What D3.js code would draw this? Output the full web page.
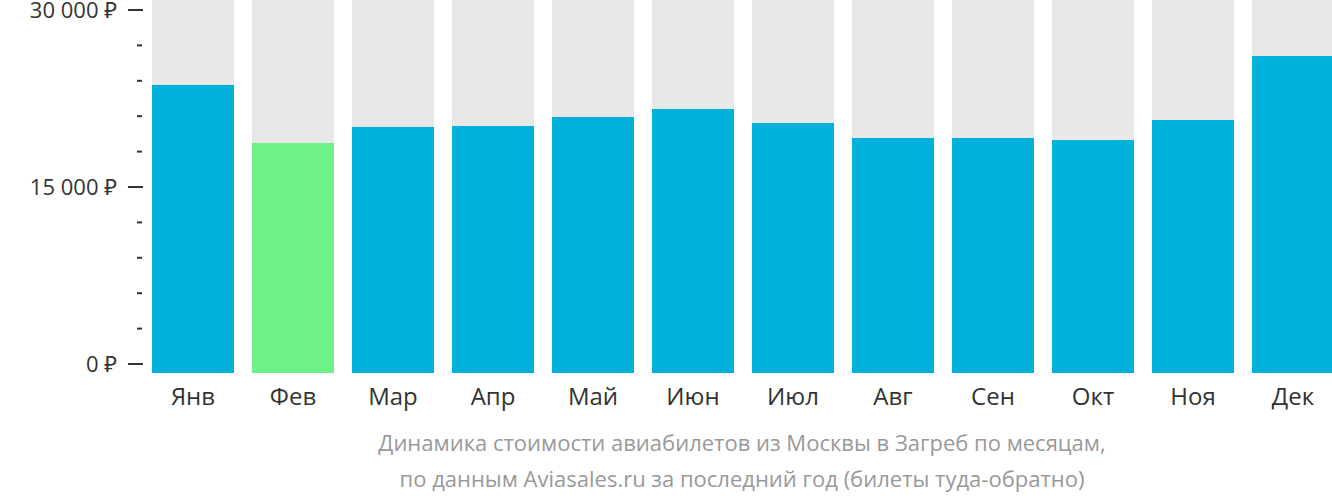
<!DOCTYPE html>
<html><head><meta charset="utf-8">
<script src="https://cdn.jsdelivr.net/npm/d3@7"></script>
<style>body{margin:0;background:#fff}text{font-family:"Open Sans","Noto Sans",sans-serif}</style>
</head><body><div id="chart"></div>
<script>
const width = 1332, height = 502;
const months = ["Янв","Фев","Мар","Апр","Май","Июн","Июл","Авг","Сен","Окт","Ноя","Дек"];
const prices = [23650, 18730, 20090, 20170, 20930, 21610, 20420, 19150, 19150, 18980, 20680, 26100];
const majorTicks = [0, 15000, 30000];
const minorTicks = [3000, 6000, 9000, 12000, 18000, 21000, 24000, 27000];
const cheapest = 1;

const svg = d3.select("#chart").append("svg")
  .attr("width", width).attr("height", height);

const x = d3.scaleBand().domain(months).range([143, 1343]).paddingInner(0.18).paddingOuter(0.09);
const y = d3.scaleLinear().domain([0, 30000]).range([364, 10]);
const bottom = y(0) + 9;

// background columns
svg.selectAll("rect.bg").data(months).enter().append("rect")
  .attr("x", d => x(d)).attr("y", 0)
  .attr("width", x.bandwidth()).attr("height", bottom)
  .attr("fill", "#e8e8e8");

// bars
svg.selectAll("rect.bar").data(prices).enter().append("rect")
  .attr("x", (d, i) => x(months[i])).attr("y", d => y(d))
  .attr("width", x.bandwidth()).attr("height", d => bottom - y(d))
  .attr("fill", (d, i) => i === cheapest ? "#6cf286" : "#00b1dc");

// y ticks
svg.selectAll("line.major").data(majorTicks).enter().append("line")
  .attr("x1", 128).attr("x2", 143).attr("y1", d => y(d)).attr("y2", d => y(d))
  .attr("stroke", "#333").attr("stroke-width", 2);
svg.selectAll("line.minor").data(minorTicks).enter().append("line")
  .attr("x1", 137).attr("x2", 142).attr("y1", d => y(d)).attr("y2", d => y(d))
  .attr("stroke", "#333").attr("stroke-width", 2);
svg.selectAll("text.ylab").data(majorTicks).enter().append("text")
  .attr("x", 117).attr("y", d => y(d) + 8).attr("text-anchor", "end")
  .attr("font-size", 22).attr("fill", "#333")
  .text(d => d3.format(",")(d).replace(/,/g, "\u00a0") + " ₽");

// x labels
svg.selectAll("text.xlab").data(months).enter().append("text")
  .attr("x", d => x(d) + x.bandwidth() / 2).attr("y", 405)
  .attr("text-anchor", "middle").attr("font-size", 24).attr("fill", "#333")
  .text(d => d);

// caption
const caption = ["Динамика стоимости авиабилетов из Москвы в Загреб по месяцам,",
  "по данным Aviasales.ru за последний год (билеты туда-обратно)"];
svg.selectAll("text.cap").data(caption).enter().append("text")
  .attr("x", 742).attr("y", (d, i) => 451 + i * 36)
  .attr("text-anchor", "middle").attr("font-size", 22).attr("fill", "#999")
  .text(d => d);
</script></body></html>
